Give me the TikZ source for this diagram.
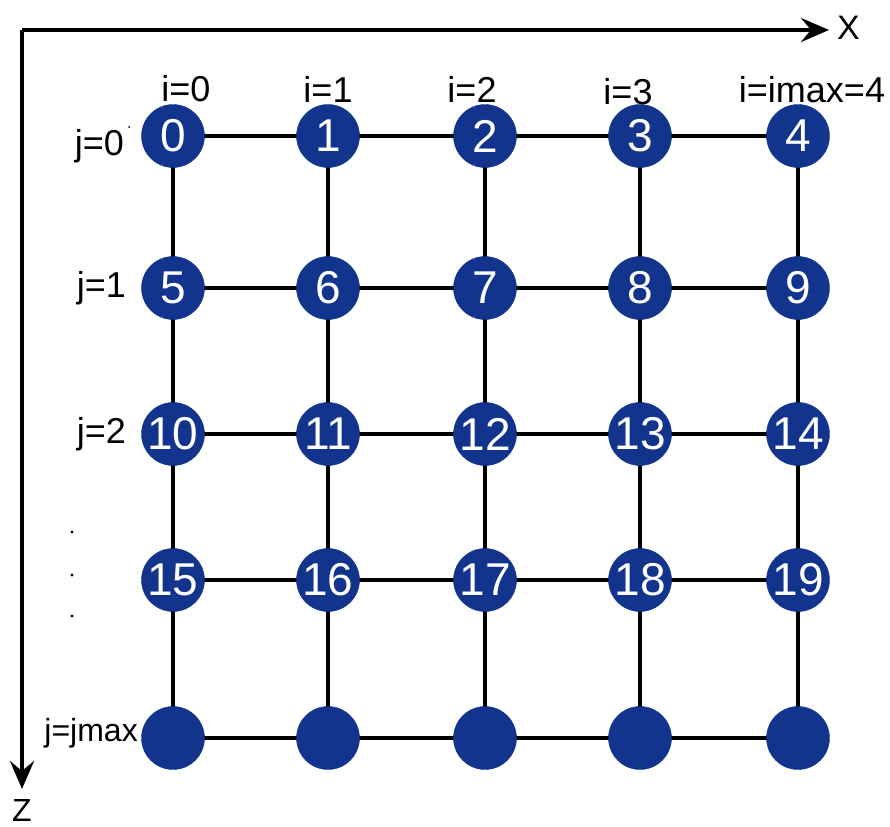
\documentclass[tikz,border=0pt]{standalone}
\usepackage{fontspec}
\setmainfont{Liberation Sans}
\usetikzlibrary{arrows.meta}
\definecolor{nodeblue}{RGB}{18,52,140}
\begin{document}
\begin{tikzpicture}[x=1pt,y=-1pt,
  gridnode/.style={circle,fill=nodeblue,draw=nodeblue,minimum size=63pt,inner sep=0pt,text=white,font=\fontsize{46}{46}\selectfont},
  lab/.style={font=\fontsize{36}{36}\selectfont,inner sep=0pt},
  gline/.style={line width=4pt,black},
  axis/.style={line width=4.5pt,black,-{Stealth[length=28pt,width=24pt,inset=10pt]}}]
\useasboundingbox (0,0) rectangle (890,826);
\def\colx{{173,328,485,640,798}}
\def\rowy{{136,288,434,580,738}}
\foreach \r in {0,...,4}{
  \foreach \c in {0,...,4}{
    \pgfmathsetmacro{\xx}{\colx[\c]}
    \pgfmathsetmacro{\yy}{\rowy[\r]}
    \coordinate (p\r\c) at (\xx,\yy);
  }
}
% grid lines
\foreach \r in {0,...,4}{\draw[gline] (p\r0) -- (p\r4);}
\foreach \c in {0,...,4}{\draw[gline] (p0\c) -- (p4\c);}
% nodes
\foreach \r in {0,...,3}{
  \foreach \c in {0,...,4}{
    \pgfmathtruncatemacro{\nn}{5*\r+\c}
    \node[gridnode] (n\nn) at (p\r\c) {\nn};
  }
}
\foreach \c in {0,...,4}{\node[gridnode] (m\c) at (p4\c) {};}
% axes
\coordinate (o) at (22,30);
\coordinate (xe) at (829,30);
\coordinate (ze) at (22,789);
\draw[axis] (o) -- (xe);
\draw[axis] (o) -- (ze);
\node[font=\fontsize{34}{34}\selectfont,anchor=west,inner sep=0pt] (xl) at (837,28) {X};
\node[font=\fontsize{32}{32}\selectfont,inner sep=0pt] (zl) at (22,810) {Z};
% labels
\node[lab] (i0) at (186,89) {i=0};
\node[lab] (i1) at (328,89) {i=1};
\node[lab] (i2) at (472,89) {i=2};
\node[lab] (i3) at (628,92) {i=3};
\node[lab] (i4) at (812,90) {i=imax=4};
\node[lab,anchor=east] (j0) at (124,146) {j=0};
\fill (129,127) circle (1pt);
\node[lab,anchor=east] (j1) at (126,288) {j=1};
\node[lab,anchor=east] (j2) at (126,434) {j=2};
\fill (72,532) circle (1.6pt);
\fill (72,575) circle (1.6pt);
\fill (72,616) circle (1.6pt);
\node[font=\fontsize{32}{32}\selectfont,inner sep=0pt,anchor=east] (jm) at (138,733) {j=jmax};
\end{tikzpicture}
\end{document}
